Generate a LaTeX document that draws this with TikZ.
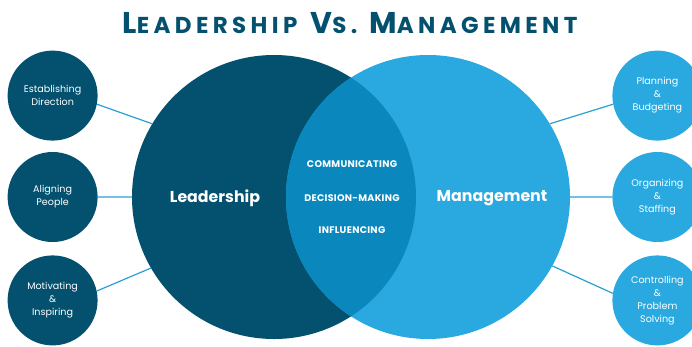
\documentclass[tikz,border=0pt]{standalone}
\usepackage{fontspec}
\setmainfont{Poppins}
\usetikzlibrary{positioning}

\definecolor{leaddark}{HTML}{03506F}
\definecolor{mgmtblue}{HTML}{29A9E0}
\definecolor{overlap}{HTML}{0A88BE}
\definecolor{linkblue}{HTML}{2A9FD6}

% fake small caps for the heading
\newcommand{\capbig}[1]{{\fontsize{30}{32}\selectfont #1}}
\newcommand{\capsmall}[1]{{\fontsize{23}{32}\selectfont #1}}

\begin{document}
\begin{tikzpicture}[x=1pt,y=-1pt,
    bigcirc/.style={circle,minimum size=284pt,inner sep=0pt},
    bubble/.style={circle,minimum size=90pt,inner sep=0pt,text=white,align=center,
      font=\fontsize{9.6}{13}\selectfont},
    lbub/.style={bubble,fill=leaddark},
    rbub/.style={bubble,fill=mgmtblue},
    link/.style={draw=linkblue,line width=1.2pt},
    bigword/.style={text=white,font=\fontsize{15.8}{18}\selectfont\bfseries},
    shared/.style={text=white,font=\fontsize{9.6}{10}\selectfont\bfseries\addfontfeatures{LetterSpace=3}},
    heading/.style={text=leaddark,font=\bfseries\addfontfeatures{LetterSpace=19}}]
  \useasboundingbox (0,0) rectangle (692,346);

  \node[heading, anchor=base] (title) at (350,33)
    {\capbig{L}\capsmall{EADERSHIP}\hspace{9pt} \capbig{V}\capsmall{S.}\hspace{8pt} \capbig{M}\capsmall{ANAGEMENT}};

  \node[bigcirc, fill=leaddark] (lead) at (274,197) {};
  \node[bigcirc, fill=mgmtblue] (mgmt) at (428,197) {};
  \begin{scope}
    \clip (lead.center) circle (142pt);
    \fill[overlap] (mgmt.center) circle (142pt);
  \end{scope}

  \node[lbub] (align) [left=34pt of lead] {Aligning\\People};
  \node[lbub] (establish) [above=11pt of align] {Establishing\\Direction};
  \node[lbub] (motivate) [below=13pt of align] {Motivating\\\&\\Inspiring};

  \node[rbub] (organize) [right=42pt of mgmt] {Organizing\\\&\\Staffing};
  \node[rbub] (plan) [above=11pt of organize] {Planning\\\&\\Budgeting};
  \node[rbub] (control) [below=13pt of organize] {Controlling\\\&\\Problem\\Solving};

  \path[link]
    (establish.-11) -- (lead.149)
    (align) -- (lead)
    (motivate.12) -- (lead.210)
    (plan.191) -- (mgmt.31)
    (organize) -- (mgmt)
    (control.171) -- (mgmt.-29);

  \node[bigword] (leadword) at (215,198) {Leadership};
  \node[bigword] (mgmtword) at (492,198) {Management};
  \node[shared] (comm) at (352,164) {COMMUNICATING};
  \node[shared] (decide) at (352,198) {DECISION-MAKING};
  \node[shared] (influence) at (352,230) {INFLUENCING};
\end{tikzpicture}
\end{document}
